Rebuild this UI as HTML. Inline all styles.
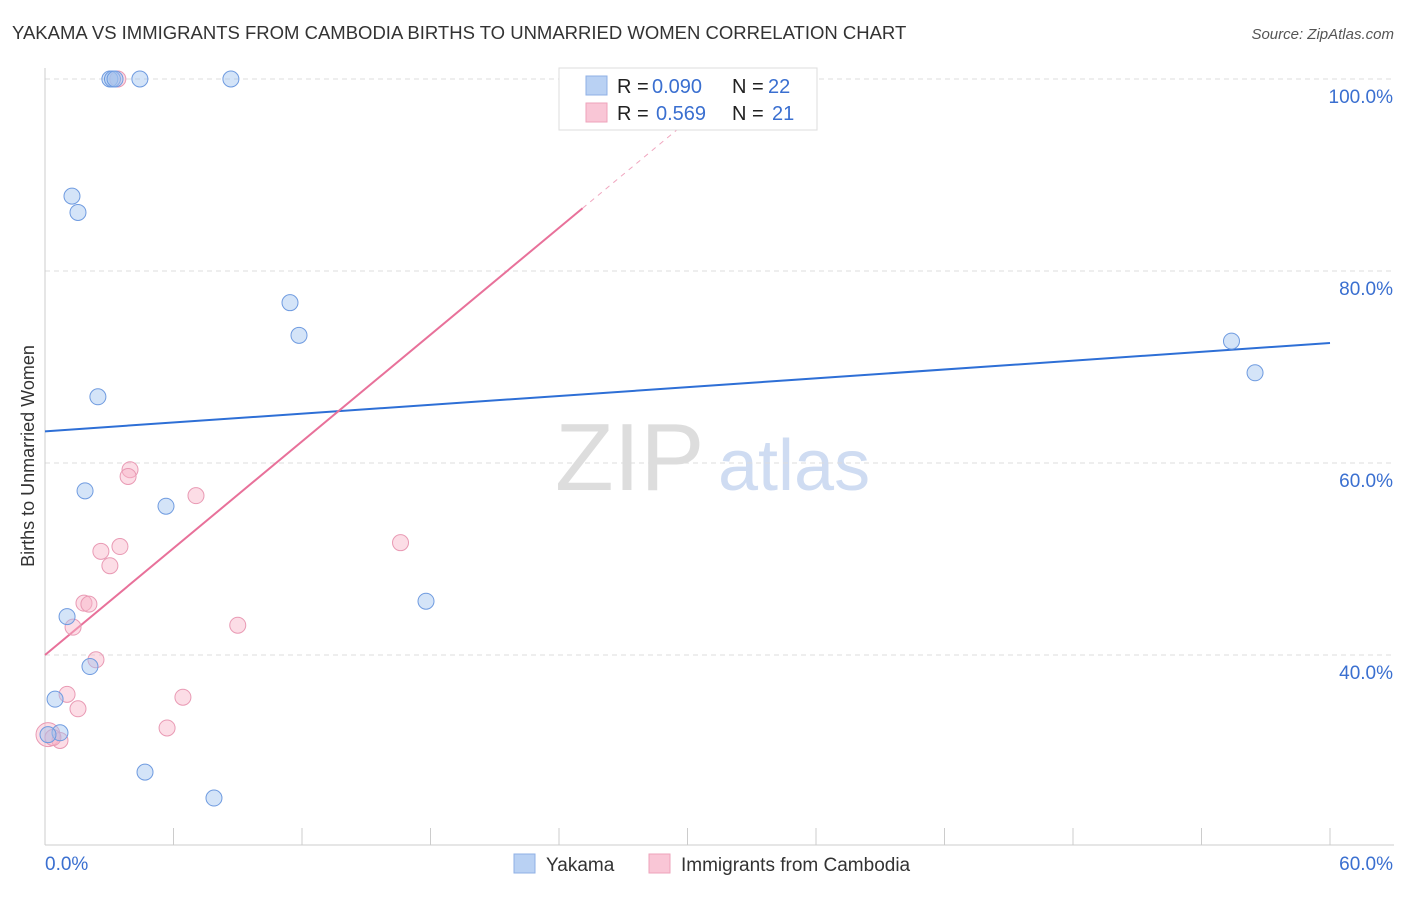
<!DOCTYPE html>
<html><head><meta charset="utf-8"><style>
body{margin:0;background:#fff;font-family:"Liberation Sans",sans-serif}
svg text{font-family:"Liberation Sans",sans-serif}
</style></head><body>
<svg id="c" width="1406" height="892">
<text x="12" y="39" font-size="18.5" fill="#333">YAKAMA VS IMMIGRANTS FROM CAMBODIA BIRTHS TO UNMARRIED WOMEN CORRELATION CHART</text>
<text x="1394" y="39" font-size="15" fill="#555" font-style="italic" text-anchor="end">Source: ZipAtlas.com</text>
<text x="34" y="456" font-size="18" fill="#333" transform="rotate(-90 34 456)" text-anchor="middle">Births to Unmarried Women</text>
<text x="555" y="490" font-size="96" fill="#ddd" font-family="Liberation Serif">ZIP</text>
<text x="718" y="490" font-size="72" fill="#cfdcf2">atlas</text>
<g id="grid"></g><g id="marks"></g>
<g>
<rect x="559" y="68" width="258" height="62" fill="#fff" stroke="#ddd"/>
<rect x="586" y="76" width="21" height="19" fill="#b9d1f3" stroke="#8fb0e6"/>
<rect x="586" y="103" width="21" height="19" fill="#f9c6d6" stroke="#eea3bb"/>
<text x="617" y="93" font-size="20" fill="#222">R =</text>
<text x="652" y="93" font-size="20" fill="#3a6fd0">0.090</text>
<text x="732" y="93" font-size="20" fill="#222">N =</text>
<text x="768" y="93" font-size="20" fill="#3a6fd0">22</text>
<text x="617" y="120" font-size="20" fill="#222">R =</text>
<text x="656" y="120" font-size="20" fill="#3a6fd0">0.569</text>
<text x="732" y="120" font-size="20" fill="#222">N =</text>
<text x="772" y="120" font-size="20" fill="#3a6fd0">21</text>
</g>
<g>
<rect x="514" y="854" width="21" height="19" fill="#b9d1f3" stroke="#8fb0e6"/>
<text x="546" y="871" font-size="19" fill="#333">Yakama</text>
<rect x="649" y="854" width="21" height="19" fill="#f9c6d6" stroke="#eea3bb"/>
<text x="681" y="871" font-size="19" fill="#333">Immigrants from Cambodia</text>
</g>
</svg>
<script>
const xTicks=[0,60];
const yTicks=[40,60,80,100];
const yakamaX=[3.03,3.15,3.27,4.43,8.68,1.26,1.54,11.44,11.86,2.47,1.87,5.65,17.79,1.03,2.10,0.47,0.7,0.14,4.67,7.89,55.4,56.5];
const yakamaY=[100,100,100,100,100,87.8,86.1,76.7,73.3,66.9,57.1,55.5,45.6,44.0,38.8,35.4,31.9,31.7,27.8,25.1,72.7,69.4];
const cambX=[24.65,3.4,3.97,3.88,7.05,16.6,2.61,3.5,3.03,1.82,2.05,1.31,9.0,2.38,1.03,6.44,1.54,5.7,0.14,0.7,0.37];
const cambY=[100,100,59.3,58.6,56.6,51.7,50.8,51.3,49.3,45.4,45.3,42.9,43.1,39.5,35.9,35.6,34.4,32.4,31.7,31.1,31.4];
const yakamaTrend=[63.3,72.5];
const cambTrend=[40.0,1.854];
const X=v=>45+v*1285/60, Y=v=>1039-v*9.6;
const NS="http://www.w3.org/2000/svg";
function mk(t,a,p){const e=document.createElementNS(NS,t);for(const k in a)e.setAttribute(k,a[k]);p.appendChild(e);return e;}
const g=document.getElementById('grid'),m=document.getElementById('marks');
yTicks.forEach(v=>{
 const l=mk('line',{x1:45,x2:1394,y1:Y(v),y2:Y(v),stroke:'#ddd','stroke-dasharray':'5,4'},g);
 
 
 const t=mk('text',{x:1393,y:Y(v)+24,'font-size':19,fill:'#3a6fd0','text-anchor':'end'},g);t.textContent=v.toFixed(1)+'%';
 
 
});
mk('line',{x1:45,x2:45,y1:68,y2:845,stroke:'#ccc'},g);
mk('line',{x1:45,x2:1394,y1:845,y2:845,stroke:'#ccc'},g);
for(let i=0;i<=10;i++){const x=X(i*6);mk('line',{x1:x,x2:x,y1:828,y2:845,stroke:'#ccc'},g);}
xTicks.forEach((v,i)=>{const t=mk('text',{x:i?1393:45,y:870,'font-size':19,fill:'#3a6fd0','text-anchor':i?'end':'start'},g);t.textContent=v.toFixed(1)+'%';
 
 });
const tl=mk('line',{x1:X(0),y1:Y(yakamaTrend[0]),x2:X(60),y2:Y(yakamaTrend[1]),stroke:'#2e6fd6','stroke-width':2},m);


const xe=25.1;
const pl=mk('line',{x1:X(0),y1:Y(cambTrend[0]),x2:X(xe),y2:Y(cambTrend[0]+cambTrend[1]*xe),stroke:'#e8719a','stroke-width':2},m);


const xd=(100-cambTrend[0])/cambTrend[1];
const pd=mk('line',{x1:X(xe),y1:Y(cambTrend[0]+cambTrend[1]*xe),x2:X(xd),y2:Y(100),stroke:'#f0a6bf','stroke-width':1,'stroke-dasharray':'5,5'},m);


cambX.forEach((v,i)=>{const c=mk('circle',{cx:X(v),cy:Y(cambY[i]),r:i==18?12:8,fill:'rgba(248,180,200,0.45)',stroke:'#e99ab4'},m);
 
 });
yakamaX.forEach((v,i)=>{const c=mk('circle',{cx:X(v),cy:Y(yakamaY[i]),r:8,fill:'rgba(160,195,240,0.45)',stroke:'#6f9be0'},m);
 
 });
</script>
</body></html>
